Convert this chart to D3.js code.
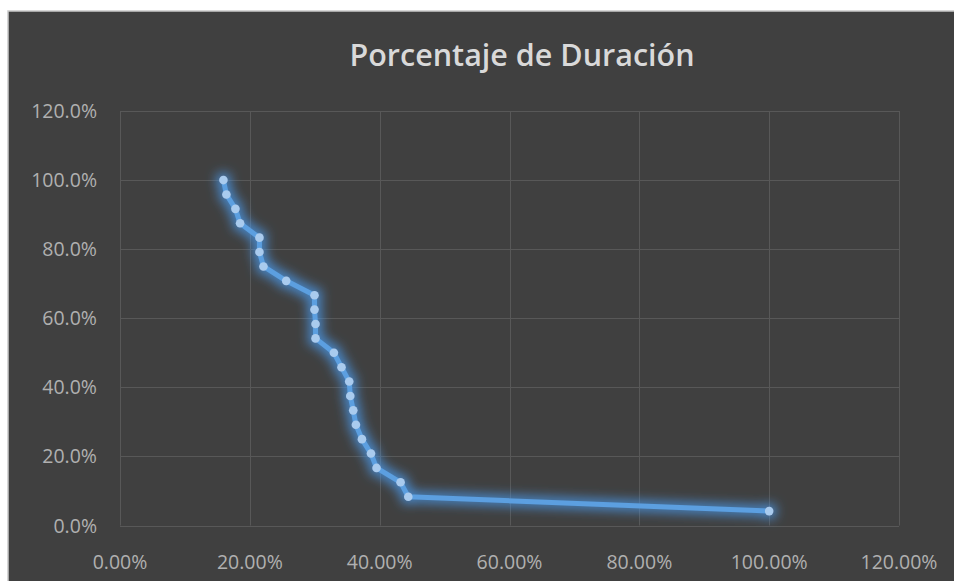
<!DOCTYPE html>
<html>
<head>
<meta charset="utf-8">
<script src="https://cdn.jsdelivr.net/npm/d3@7"></script>
<style>
    body { margin: 0; background: #fff; }
    text { font-family: "Open Sans", sans-serif; }
</style>
</head>
<body>
<script>
    var width = 954, height = 581;

    // datos (fraccion)
    var duracion = [0.1593, 0.1639, 0.1778, 0.1850, 0.2148, 0.2148, 0.2210, 0.2560,
        0.2996, 0.2996, 0.3012, 0.3012, 0.3295, 0.3412, 0.3531, 0.3547, 0.3593,
        0.3634, 0.3727, 0.3866, 0.3952, 0.4322, 0.4441, 1.0000];
    var porcentaje = [1.0000, 0.9583, 0.9167, 0.8750, 0.8333, 0.7917, 0.7500, 0.7083,
        0.6667, 0.6250, 0.5833, 0.5417, 0.5000, 0.4583, 0.4167, 0.3750, 0.3333,
        0.2917, 0.2500, 0.2083, 0.1667, 0.1250, 0.0833, 0.0417];
    var xTicks = [0, 0.2, 0.4, 0.6, 0.8, 1.0, 1.2];
    var yTicks = [0, 0.2, 0.4, 0.6, 0.8, 1.0, 1.2];

    var points = duracion.map(function (d, i) { return { x: d, y: porcentaje[i] }; });

    var svg = d3.select("body").append("svg")
        .attr("width", width)
        .attr("height", height);

    // fondo del grafico
    svg.append("rect")
        .attr("x", 8).attr("y", 11)
        .attr("width", width).attr("height", height)
        .attr("fill", "#404040")
        .attr("stroke", "#c9c9c9")
        .attr("stroke-width", 1.5);

    var defs = svg.append("defs");
    var glow = defs.append("filter").attr("id", "glow")
        .attr("x", "-20%").attr("y", "-20%").attr("width", "140%").attr("height", "140%");
    glow.append("feMorphology").attr("in", "SourceAlpha").attr("operator", "dilate").attr("radius", 2.5).attr("result", "fat");
    glow.append("feGaussianBlur").attr("in", "fat").attr("stdDeviation", 5.5).attr("result", "blur");
    glow.append("feFlood").attr("flood-color", "#4a98e8").attr("flood-opacity", 0.8);
    glow.append("feComposite").attr("in2", "blur").attr("operator", "in").attr("result", "g");
    var merge = glow.append("feMerge");
    merge.append("feMergeNode").attr("in", "g");
    merge.append("feMergeNode").attr("in", "SourceGraphic");

    var x = d3.scaleLinear().domain([0, 1.2]).range([120, 899]);
    var y = d3.scaleLinear().domain([0, 1.2]).range([525.5, 111]);

    // lineas de rejilla
    svg.append("g").selectAll("line.h")
        .data(yTicks).enter().append("line")
        .attr("x1", x(0)).attr("x2", x(1.2))
        .attr("y1", function (d) { return Math.round(y(d)) + 0.5; })
        .attr("y2", function (d) { return Math.round(y(d)) + 0.5; })
        .attr("stroke", "#585858").attr("stroke-width", 1);
    svg.append("g").selectAll("line.v")
        .data(xTicks).enter().append("line")
        .attr("y1", y(0)).attr("y2", y(1.2))
        .attr("x1", function (d) { return Math.round(x(d)) + 0.5; })
        .attr("x2", function (d) { return Math.round(x(d)) + 0.5; })
        .attr("stroke", "#585858").attr("stroke-width", 1);

    // etiquetas de ejes
    svg.append("g").selectAll("text")
        .data(yTicks).enter().append("text")
        .attr("x", 97)
        .attr("y", function (d) { return y(d); })
        .attr("dy", "0.36em")
        .attr("text-anchor", "end")
        .attr("font-size", 19.5)
        .attr("fill", "#b0b0b0")
        .text(d3.format(".1%"));
    svg.append("g").selectAll("text")
        .data(xTicks).enter().append("text")
        .attr("x", function (d) { return x(d); })
        .attr("y", 569)
        .attr("text-anchor", "middle")
        .attr("font-size", 19.5)
        .attr("fill", "#b0b0b0")
        .text(d3.format(".2%"));

    // titulo
    svg.append("text")
        .attr("x", 522).attr("y", 66)
        .attr("text-anchor", "middle")
        .attr("font-size", 30.5)
        .attr("font-weight", 600)
        .attr("fill", "#d9d9d9")
        .text("Porcentaje de Duración");

    // serie
    var line = d3.line().x(function (d) { return x(d.x); }).y(function (d) { return y(d.y); });
    var serie = svg.append("g").attr("filter", "url(#glow)");
    serie.append("path")
        .datum(points)
        .attr("d", line)
        .attr("fill", "none")
        .attr("stroke", "#5b9fe0")
        .attr("stroke-width", 5)
        .attr("stroke-linejoin", "round");
    serie.selectAll("circle")
        .data(points).enter().append("circle")
        .attr("cx", function (d) { return x(d.x); })
        .attr("cy", function (d) { return y(d.y); })
        .attr("r", 4.3)
        .attr("fill", "#a9cbee");
</script>
</body>
</html>
